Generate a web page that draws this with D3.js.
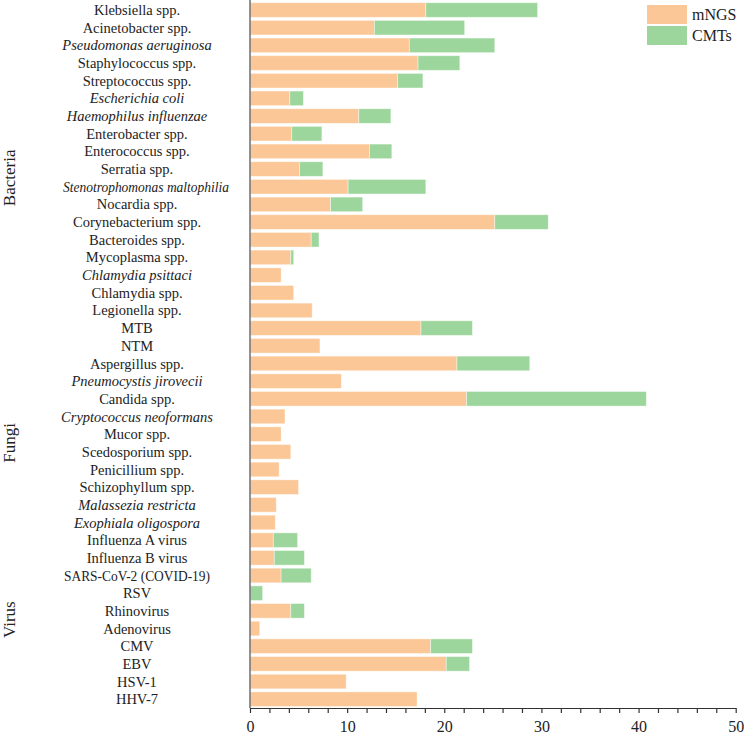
<!DOCTYPE html>
<html>
<head>
<meta charset="utf-8">
<script src="https://cdn.jsdelivr.net/npm/d3@7"></script>
<style>
  body { margin: 0; background: #fff; }
  svg text { font-family: "Liberation Serif", "Times New Roman", serif; fill: #222; }
</style>
</head>
<body>
<svg id="chart" width="744" height="735"></svg>
<script>
// categories, top to bottom
let categories = [
  "Klebsiella spp.", "Acinetobacter spp.", "Pseudomonas aeruginosa", "Staphylococcus spp.",
  "Streptococcus spp.", "Escherichia coli", "Haemophilus influenzae", "Enterobacter spp.",
  "Enterococcus spp.", "Serratia spp.", "Stenotrophomonas maltophilia", "Nocardia spp.",
  "Corynebacterium spp.", "Bacteroides spp.", "Mycoplasma spp.", "Chlamydia psittaci",
  "Chlamydia spp.", "Legionella spp.", "MTB", "NTM",
  "Aspergillus spp.", "Pneumocystis jirovecii", "Candida spp.", "Cryptococcus neoformans",
  "Mucor spp.", "Scedosporium spp.", "Penicillium spp.", "Schizophyllum spp.",
  "Malassezia restricta", "Exophiala oligospora",
  "Influenza A virus", "Influenza B virus", "SARS-CoV-2 (COVID-19)", "RSV",
  "Rhinovirus", "Adenovirus", "CMV", "EBV", "HSV-1", "HHV-7"
];

// names printed in italics
let italicNames = [
  "Pseudomonas aeruginosa", "Escherichia coli", "Haemophilus influenzae",
  "Stenotrophomonas maltophilia", "Chlamydia psittaci", "Pneumocystis jirovecii",
  "Cryptococcus neoformans", "Malassezia restricta", "Exophiala oligospora"
];

let mNGS = [
  18.1, 12.8, 16.4, 17.3, 15.2, 4.1, 11.2, 4.3, 12.3, 5.1,
  10.1, 8.3, 25.2, 6.3, 4.2, 3.2, 4.5, 6.4, 17.6, 7.2,
  21.3, 9.4, 22.3, 3.6, 3.2, 4.2, 3.0, 5.0, 2.7, 2.6,
  2.4, 2.5, 3.2, 0, 4.2, 1.0, 18.6, 20.2, 9.9, 17.2
];

let CMTs = [
  11.5, 9.3, 8.8, 4.3, 2.6, 1.4, 3.3, 3.1, 2.3, 2.4,
  8.0, 3.3, 5.5, 0.8, 0.3, 0, 0, 0, 5.3, 0,
  7.5, 0, 18.5, 0, 0, 0, 0, 0, 0, 0,
  2.5, 3.1, 3.1, 1.3, 1.4, 0, 4.3, 2.4, 0, 0
];

let seriesNames = ["mNGS", "CMTs"];
let seriesColors = ["#fbc796", "#9dd69c"];

// groups: name, first and last category
let groups = [
  { name: "Bacteria", from: "Klebsiella spp.", to: "NTM" },
  { name: "Fungi", from: "Aspergillus spp.", to: "Exophiala oligospora" },
  { name: "Virus", from: "Influenza A virus", to: "HHV-7" }
];

let xTicks = [0, 10, 20, 30, 40, 50];

// build rows for stacking
let rows = categories.map((c, i) => ({ name: c, mNGS: mNGS[i], CMTs: CMTs[i] }));
let stacked = d3.stack().keys(seriesNames)(rows);

let svg = d3.select("#chart");

let x = d3.scaleLinear().domain([0, 50]).range([250, 735.7]);
let y = d3.scaleBand()
  .domain(categories)
  .range([1.2, 708])
  .paddingInner(0.174)
  .paddingOuter(0.085);

let color = d3.scaleOrdinal().domain(seriesNames).range(seriesColors);

// bars
svg.append("g")
  .selectAll("g")
  .data(stacked)
  .join("g")
  .attr("fill", (d) => color(d.key))
  .selectAll("rect")
  .data((d) => d)
  .join("rect")
  .attr("x", (d) => x(d[0]))
  .attr("y", (d) => y(d.data.name))
  .attr("width", (d) => Math.max(0, x(d[1]) - x(d[0])))
  .attr("height", y.bandwidth())
  .attr("stroke", "#fff")
  .attr("stroke-opacity", 0.5)
  .attr("stroke-width", 0.8);

// left axis line
svg.append("line")
  .attr("x1", x(0)).attr("x2", x(0))
  .attr("y1", 0).attr("y2", 708)
  .attr("stroke", "#777")
  .attr("stroke-width", 1.6);

// category labels (long ones squeezed a little, like the original)
let labels = svg.append("g")
  .selectAll("text")
  .data(categories)
  .join("text")
  .attr("x", (d) => (d === "Stenotrophomonas maltophilia" ? 146 : 137))
  .attr("y", (d) => y(d) + y.bandwidth() / 2)
  .attr("dy", "0.35em")
  .attr("text-anchor", "middle")
  .attr("font-size", 14.5)
  .attr("font-style", (d) => (italicNames.includes(d) ? "italic" : "normal"))
  .text((d) => d);

labels.each(function (d) {
  let maxW = italicNames.includes(d) ? 166 : 146;
  if (this.getComputedTextLength() > maxW) {
    d3.select(this).attr("textLength", maxW).attr("lengthAdjust", "spacingAndGlyphs");
  }
});

// group labels
svg.append("g")
  .selectAll("text")
  .data(groups)
  .join("text")
  .attr("transform", (g) => {
    let mid = (y(g.from) + y(g.to) + y.bandwidth()) / 2;
    return "translate(9," + mid + ") rotate(-90)";
  })
  .attr("text-anchor", "middle")
  .attr("dy", "0.35em")
  .attr("font-size", 17)
  .text((g) => g.name);

// bottom axis, minor ticks every 2
let xAxis = d3.axisBottom(x)
  .tickValues(d3.range(0, 51, 2))
  .tickSize(5)
  .tickSizeOuter(0)
  .tickFormat((d) => (xTicks.includes(d) ? d : ""));

let gx = svg.append("g")
  .attr("transform", "translate(0,708)")
  .call(xAxis);

gx.select(".domain").attr("stroke", "#333").attr("stroke-width", 1.2);
gx.selectAll(".tick line").attr("stroke", "#333").attr("stroke-width", 1.2);
gx.selectAll(".tick text")
  .attr("font-family", "Liberation Serif, serif")
  .attr("font-size", 16)
  .attr("fill", "#222")
  .attr("y", 13);

// legend
let legend = svg.append("g")
  .selectAll("g")
  .data(seriesNames)
  .join("g")
  .attr("transform", (d, i) => "translate(647," + (5 + i * 21) + ")");

legend.append("rect")
  .attr("width", 40)
  .attr("height", 19)
  .attr("fill", (d) => color(d));

legend.append("text")
  .attr("x", 45)
  .attr("y", 9.5)
  .attr("dy", "0.35em")
  .attr("font-size", 16)
  .text((d) => d);
</script>
</body>
</html>
